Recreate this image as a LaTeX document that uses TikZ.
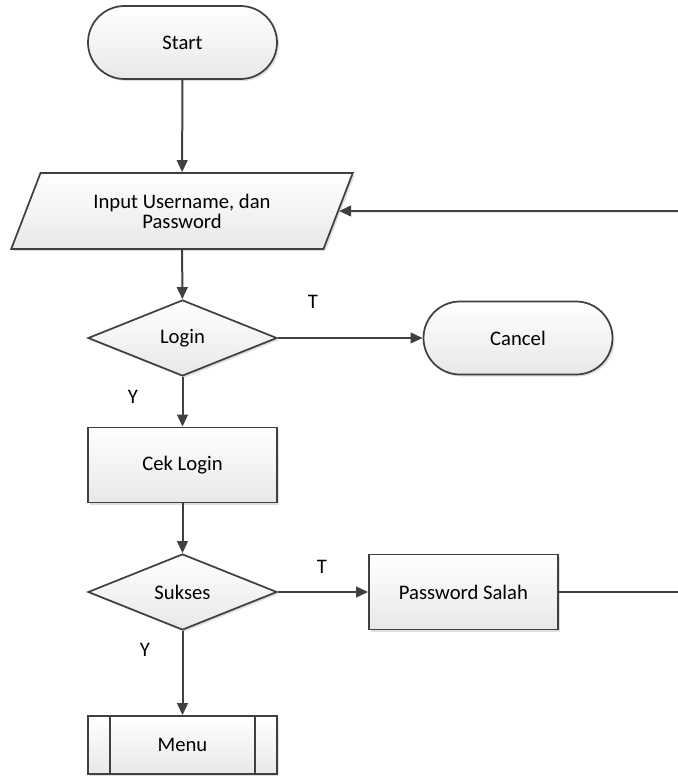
\documentclass[tikz,border=0pt]{standalone}
\usepackage{fontspec}
\setmainfont{Carlito}
\usetikzlibrary{shapes.geometric,shapes.misc,arrows.meta,shadows}
\definecolor{ln}{HTML}{404040}
\tikzset{
  base/.style={draw=ln, line width=1.3pt, top color=white, bottom color=black!9,
    drop shadow={shadow xshift=1.5pt, shadow yshift=-1.5pt, opacity=0.25},
    font=\fontsize{15.5}{15}\selectfont, align=center, inner sep=0pt},
  term/.style={base, rounded rectangle, minimum width=141.75pt, minimum height=54.75pt},
  proc/.style={base, rectangle, minimum width=141.75pt, minimum height=56.25pt},
  decis/.style={base, diamond, minimum width=141.75pt, minimum height=57pt},
  io/.style={base, trapezium, trapezium left angle=62, trapezium right angle=118,
    trapezium stretches=true, minimum width=256.5pt, minimum height=57pt},
  lab/.style={font=\fontsize{15.5}{15}\selectfont, inner sep=0pt},
  arr/.style={draw=ln, line width=1.5pt, -{Triangle[length=9pt,width=8pt]}},
  ln/.style={draw=ln, line width=1.5pt}
}
\begin{document}
\begin{tikzpicture}[x=0.75pt,y=-0.75pt]
\useasboundingbox (0,0) rectangle (678,776);
\node[term] (start) at (182.5,42.5) {Start};
\node[io] (inp) at (182,211) {Input Username, dan\\Password};
\node[decis] (login) at (182.5,338) {Login};
\node[term] (cancel) at (518,338) {Cancel};
\node[proc] (cek) at (182.5,465) {Cek Login};
\node[decis] (sukses) at (182.5,592) {Sukses};
\node[proc] (salah) at (463.5,592) {Password Salah};
\node[base, rectangle, minimum width=141.75pt, minimum height=43.5pt] (menu) at (182.5,745) {Menu};
\draw[ln, line width=1.3pt] ([xshift=17.25pt]menu.north west) -- ([xshift=17.25pt]menu.south west);
\draw[ln, line width=1.3pt] ([xshift=-17.25pt]menu.north east) -- ([xshift=-17.25pt]menu.south east);
\coordinate (rtop) at (678,211);
\coordinate (rbot) at (678,592);
\node[lab] (t1) at (313,302) {T};
\node[lab] (y1) at (133,397) {Y};
\node[lab] (t2) at (322,567) {T};
\node[lab] (y2) at (145,650) {Y};
\draw[arr] (start) -- (inp);
\draw[arr] (rtop) -- (inp.east);
\draw[arr] (inp) -- (login);
\draw[arr] (login) -- (cancel);
\draw[arr] (login) -- (cek);
\draw[arr] (cek) -- (sukses);
\draw[arr] (sukses) -- (salah);
\draw[ln] (salah) -- (rbot);
\draw[arr] (sukses) -- (menu);
\end{tikzpicture}
\end{document}
